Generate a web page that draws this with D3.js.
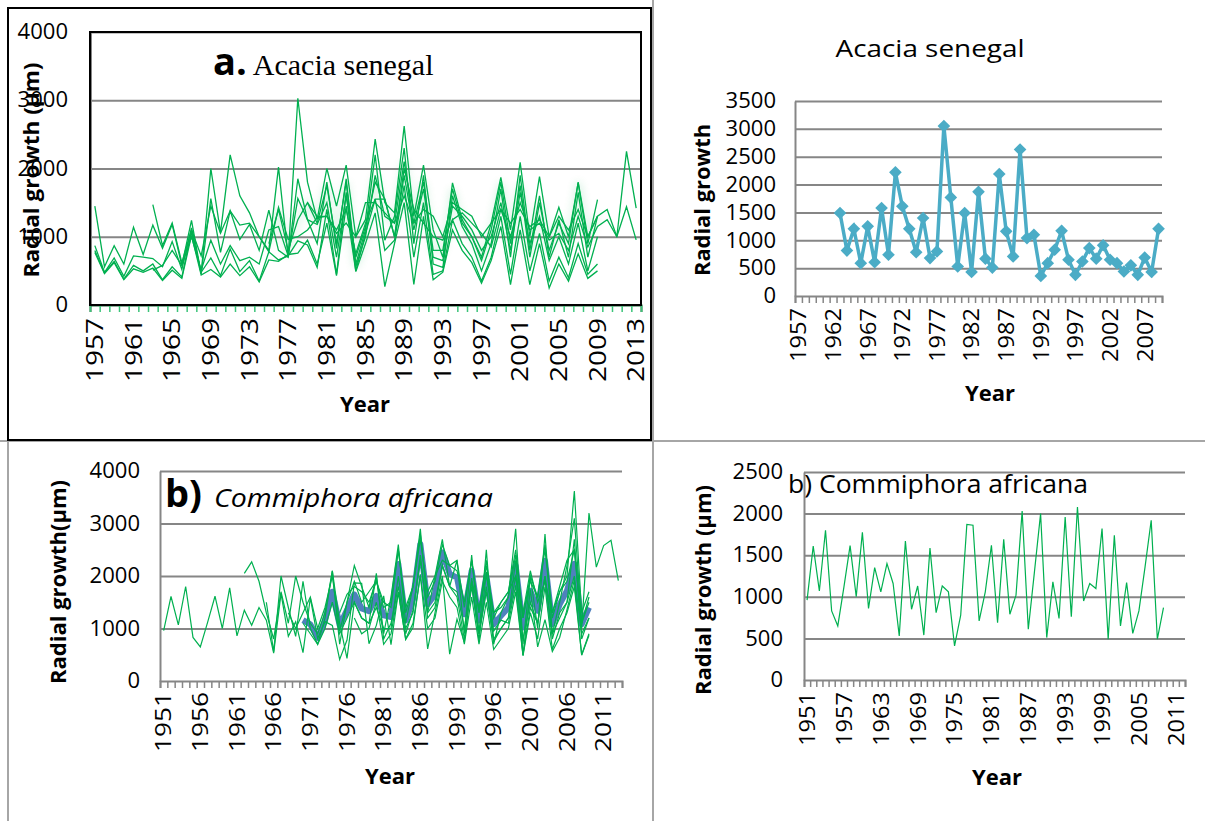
<!DOCTYPE html>
<html><head><meta charset="utf-8">
<script src="https://cdn.jsdelivr.net/npm/d3@7"></script>
<style>
body{margin:0;background:#fff;}
svg{display:block;font-family:"Open Sans",sans-serif;}
</style></head><body>
<svg id="c" width="1205" height="821"></svg>
<script>
// ---------------- DATA ----------------
// Panel a (left): Acacia senegal individual radii, categories 1957-2013
const acaciaFirstYear = 1957, acaciaLastYear = 2013;
const acaciaTickYears = [1957,1961,1965,1969,1973,1977,1981,1985,1989,1993,1997,2001,2005,2009,2013];
const acaciaYTicks = [0,1000,2000,3000,4000];
const acaciaStarts = [1957,1957,1957,1963,1963,1957,1975,1979];
const acS1 = [1450,560,870,600,1140,740,1170,830,1180,580,1240,460,2000,1060,2200,1600,1350,1000,800,2020,700,3030,1800,1250,2000,1450,2050,1000,1250,2430,1500,1350,2620,1300,2050,1100,700,1790,1250,1000,700,1200,1870,1100,2090,1000,1880,1000,1430,1000,1790,900,1545];
const acS2 = [870,480,690,420,720,700,680,560,930,520,1130,460,1560,770,1380,960,1180,800,1390,800,700,1850,1250,900,1800,830,1850,600,1100,2200,950,1300,2300,900,1900,600,550,1600,1150,900,500,900,1700,700,1900,800,1600,700,1250,700,1650,700,1300];
const acS3 = [800,470,640,380,580,500,600,370,560,410,1080,480,690,430,820,490,650,350,780,660,720,940,880,550,1400,450,1650,500,1050,1550,800,950,1750,700,1500,450,500,1250,900,700,350,700,1300,450,1300,500,1050,350,700,400,900,450,600];
const acS4 = [510,580,800,580,1000,510,950,600,870,650,700,600,1100,1150,720,1560,1250,1180,1500,700,1600,700,1150,1800,1550,1000,1900,1100,1700,700,650,1450,1300,1100,800,1000,1500,800,1650,900,1300,650,1000,600,1200,500,1000];
const acS5 = [1470,870,1200,620,1100,720,1450,1050,1380,1170,1200,1000,780,1430,960,1000,1100,1280,1300,1100,1400,750,1200,1550,1550,1000,2000,1400,1200,1000,950,1250,1350,1200,1050,850,1400,1000,1500,1100,1200,950,1050,800,1300,850,1150,1250,1000,1440,955];
const acS6 = [770,460,620,370,530,480,540,360,510,390,1020,440,520,410,600,430,560,340,660,640,740,760,950,600,1200,430,1450,490,900,1350,270,900,1500,300,1300,370,480,1100,800,620,320,650,1150,300,1100,300,900,250,600,350,750,390,500];
const acS7 = [900,1400,800,1250,1500,1200,1750,900,1800,560,1000,1900,1300,1200,2100,1200,1800,800,800,1700,1200,1000,650,1100,1800,900,1750,700,1500,800,1200,900,1800,1000,1300];
const acS8 = [1500,1300,1300,1050,1200,1000,1500,1500,1350,1200,1600,1200,1400,1300,1000,1500,1400,1300,1000,1200,1400,1200,1400,1150,1250,1000,1300,1100,1400,1000,1300,1400,1000,2250,1420];

// Panel top-right: Acacia senegal mean series, categories 1957-2009, data 1963-2009
const acMeanFirstYear = 1957, acMeanLastYear = 2009, acMeanStart = 1963;
const acMeanTickYears = [1957,1962,1967,1972,1977,1982,1987,1992,1997,2002,2007];
const acMeanYTicks = [0,500,1000,1500,2000,2500,3000,3500];
const acMean = [1490,815,1205,590,1250,605,1580,740,2220,1610,1205,785,1400,680,800,3050,1770,530,1490,430,1870,670,510,2190,1160,710,2630,1040,1100,360,590,830,1170,650,380,620,860,670,910,650,590,440,550,380,690,430,1205];

// Panel b (left): Commiphora africana radii, categories 1951-2013
const comFirstYear = 1951, comLastYear = 2013;
const comTickYears = [1951,1956,1961,1966,1971,1976,1981,1986,1991,1996,2001,2006,2011];
const comYTicks = [0,1000,2000,3000,4000];
const comLongStart = 1951;
const comLong = [960,1610,1070,1800,830,650,1120,1615,1000,1775,860,1350,1060,1400,1160,530,1670,850,1130,540,1585,810,1130,1060,410,780,1870,1860,710,1060,1620,690,1690,790,1020,2030,610,1300,2000,510,1180,740,1960,760,2080,950,1160,1100,1820,490,1740,650,1170,560,830,1360,1920,490,870];
const comStarts = [1962,1965,1968,1970,1975,1993,1977];
const comG1 = [2050,2270,1900,1300,800,1700,1100,2000,1500,1100,900,1300,2100,700,1500,2200,1800,1400,2000,900,1600,2600,1100,1800,2900,1300,2000,2700,1800,2300,900,2400,900,2500,700,1300,1600,2900,700,2000,1000,2800,900,1500,2200,3100,1100,1600];
const comG2 = [1500,560,2000,1400,850,1900,1000,700,1200,2100,1100,430,1500,1200,1100,2050,800,1100,1800,900,1350,2300,1300,1500,2200,1800,1600,800,1800,900,1700,750,1000,1200,2300,500,1400,1100,2000,800,1300,1500,2700,800,1200];
const comG3 = [1300,1000,1300,1600,1000,1400,2000,950,1500,1900,1500,1700,1900,1400,1500,2500,1400,1800,2700,1700,2000,2300,2200,2100,1500,2300,1300,2300,1200,1500,1700,2500,1200,2000,1600,2600,1300,1700,2000,3620,1300,1700];
const comG4 = [1100,900,700,1000,1500,900,1200,1500,1200,1100,1400,1000,1000,2000,1000,1300,2400,1200,1400,2200,1800,1700,1000,1900,900,1800,800,1000,1200,2000,800,1500,1100,2000,900,1200,1500,2000,900,1200];
const comG5 = [1300,1650,1800,1700,1500,1900,1500,1400,2500,1300,1800,2800,1600,1900,2600,2200,2300,1400,2300,1300,2200,1300,1400,1600,2400,1200,1900,1600,2500,1200,1700,1900,2500,1100,1500];
const comG6 = [1900,1400,2000,1300,1500,1700,2000,1300,2100,1500,1900,1300,1800,2300,2500,1000,3200,2170,2580,2680,1910];
const comG7 = [1200,900,1000,1500,700,900,1700,800,1100,2000,1000,1200,1900,1600,1400,700,1600,700,1500,600,800,1000,1700,480,1300,800,1800,600,1000,1300,1800,500,900];
const comMeanStart = 1970;
const comMean = [1160,1080,820,1150,1700,1060,1350,1650,1380,1330,1620,1250,1220,2230,1150,1550,2610,1460,1650,2450,2040,1970,1270,2100,1150,2000,1080,1240,1400,2200,1020,1720,1340,2290,1080,1460,1720,2230,1080,1400];

// Panel bottom-right: Commiphora africana single series, categories 1951-2012
const comSingleFirstYear = 1951, comSingleLastYear = 2012;
const comSingleTickYears = [1951,1957,1963,1969,1975,1981,1987,1993,1999,2005,2011];
const comSingleYTicks = [0,500,1000,1500,2000,2500];

// ---------------- DRAWING ----------------
const svg = d3.select("#c");
const GRID = "#868686", GREEN = "#00b050", AQUA = "#4bacc6", BLUE = "#4f81bd";

// panel frames
const frames = svg.append("g");
frames.append("line").attr("x1",653).attr("x2",653).attr("y1",0).attr("y2",821).attr("stroke","#a6a6a6").attr("stroke-width",2);
frames.append("line").attr("x1",0).attr("x2",1205).attr("y1",441).attr("y2",441).attr("stroke","#a6a6a6").attr("stroke-width",2);
frames.append("line").attr("x1",8).attr("x2",8).attr("y1",441).attr("y2",821).attr("stroke","#a6a6a6").attr("stroke-width",2);
frames.append("rect").attr("x",8).attr("y",8).attr("width",643).attr("height",432).attr("fill","none").attr("stroke","#000").attr("stroke-width",2);

function seriesPoints(start, values){ return values.map((v,i)=>({year:start+i, v})); }

function buildPanel(o){
  const g = svg.append("g");
  const years = d3.range(o.first, o.last+1);
  const x = d3.scaleBand().domain(years).range([o.xL,o.xR]).padding(0);
  const y = d3.scaleLinear().domain([0,o.yMax]).range([o.yB,o.yT]);
  const idx = d3.scaleLinear().domain([0,years.length]).range([o.xL,o.xR]);
  // grid
  g.append("g").attr("transform",`translate(${o.xL},0)`)
    .call(d3.axisLeft(y).tickValues(o.yTicks.filter(v=>v>0)).tickSize(-(o.xR-o.xL)).tickFormat(""))
    .call(s=>s.select(".domain").remove())
    .call(s=>s.selectAll("line").attr("stroke",GRID).attr("stroke-width",2));
  // y axis line + labels
  g.append("g").attr("transform",`translate(${o.xL},0)`)
    .call(d3.axisLeft(y).tickValues(o.yTicks).tickSize(0).tickPadding(o.yPad).tickFormat(d3.format("d")))
    .call(s=>s.select(".domain").attr("stroke",GRID).attr("stroke-width",o.yAxisW||2))
    .call(s=>s.selectAll("text").attr("font-size",21).attr("fill","#000").attr("font-family","Open Sans")
      .attr("textLength",d=>String(d).length*12.6).attr("lengthAdjust","spacingAndGlyphs"));
  // x tick marks
  g.append("g").attr("transform",`translate(0,${o.yB})`)
    .call(d3.axisBottom(idx).tickValues(d3.range(years.length+1)).tickSize(7).tickFormat(""))
    .call(s=>s.select(".domain").attr("stroke",o.xAxisColor||GRID).attr("stroke-width",2))
    .call(s=>s.selectAll("line").attr("stroke",o.tickColor||GRID).attr("stroke-width",1.5));
  // x labels
  g.append("g").attr("transform",`translate(0,${o.yB})`)
    .call(d3.axisBottom(x).tickValues(o.tickYears).tickSize(0))
    .call(s=>s.select(".domain").remove())
    .call(s=>s.selectAll("text")
      .attr("transform","rotate(-90)").attr("text-anchor","end")
      .attr("x",-o.xPad).attr("y",0).attr("dy","0.36em")
      .attr("font-size",o.xFont).attr("fill","#000").attr("font-family","Open Sans")
      .attr("textLength",o.xLen).attr("lengthAdjust","spacingAndGlyphs"));
  // axis titles
  g.append("text").attr("x",o.xTitle[0]).attr("y",o.xTitle[1]).attr("text-anchor","middle")
    .attr("font-weight","bold").attr("font-size",22).attr("textLength",50).attr("lengthAdjust","spacingAndGlyphs").text("Year");
  g.append("text").attr("transform",`translate(${o.yTitle[0]},${o.yTitle[1]}) rotate(-90)`)
    .attr("text-anchor","middle").attr("dy","0.36em").attr("font-weight","bold").attr("font-size",22)
    .attr("textLength",o.yTitleLen).attr("lengthAdjust","spacingAndGlyphs").text(o.yTitleText);
  return {g,x,y};
}

const line = (x,y)=>d3.line().x(d=>x(d.year)+x.bandwidth()/2).y(d=>y(d.v));

// ---- Panel a ----
const defs = svg.append("defs");
defs.append("filter").attr("id","glow").attr("x","-10%").attr("y","-10%").attr("width","120%").attr("height","120%")
  .append("feGaussianBlur").attr("stdDeviation",4);

const pa = buildPanel({first:acaciaFirstYear,last:acaciaLastYear,xL:90,xR:641,yT:32,yB:305,yMax:4000,
  yTicks:acaciaYTicks,yPad:22,tickYears:acaciaTickYears,xPad:13,xFont:23,xLen:64,
  xAxisColor:"#1e6b3a",tickColor:"#3cc47a",yAxisW:3,
  xTitle:[365,412],yTitle:[31,170],yTitleLen:215,yTitleText:"Radial growth (µm)"});
pa.g.append("rect").attr("x",90).attr("y",32).attr("width",551).attr("height",273)
  .attr("fill","none").attr("stroke","#000").attr("stroke-width",2);
const acSeries = [acS1,acS2,acS3,acS4,acS5,acS6,acS7,acS8];
const la = line(pa.x,pa.y);
pa.g.append("g").attr("filter","url(#glow)").attr("opacity",0.18)
  .selectAll("path").data([acS7].map(s=>seriesPoints(1975,s)))
  .join("path").attr("d",la).attr("fill","none").attr("stroke",GREEN).attr("stroke-width",4);
pa.g.append("g").selectAll("path").data(acSeries.map((s,i)=>seriesPoints(acaciaStarts[i],s)))
  .join("path").attr("d",la).attr("fill","none").attr("stroke",GREEN).attr("stroke-width",1.3).attr("stroke-linejoin","miter");
// title a
const ta = svg.append("text").attr("x",213).attr("y",75);
ta.append("tspan").attr("font-weight","bold").attr("font-size",38).text("a.");
ta.append("tspan").attr("font-family","Liberation Serif, serif").attr("font-size",30).attr("dx",6).text("Acacia senegal");

// ---- Panel top-right ----
const pb = buildPanel({first:acMeanFirstYear,last:acMeanLastYear,xL:795,xR:1162,yT:101,yB:296,yMax:3500,
  yTicks:acMeanYTicks,yPad:19,tickYears:acMeanTickYears,xPad:12,xFont:22,xLen:54,
  xTitle:[990,401],yTitle:[702,200],yTitleLen:152,yTitleText:"Radial growth"});
const acMeanPts = seriesPoints(acMeanStart, acMean);
const lb = line(pb.x,pb.y);
pb.g.append("path").datum(acMeanPts).attr("d",lb).attr("fill","none").attr("stroke",AQUA).attr("stroke-width",3.5);
pb.g.append("g").selectAll("path").data(acMeanPts).join("path")
  .attr("d",d3.symbol(d3.symbolSquare,80))
  .attr("transform",d=>`translate(${pb.x(d.year)+pb.x.bandwidth()/2},${pb.y(d.v)}) rotate(45)`)
  .attr("fill",AQUA);
svg.append("text").attr("x",930).attr("y",57).attr("text-anchor","middle").attr("font-size",24)
  .attr("textLength",189).attr("lengthAdjust","spacingAndGlyphs").text("Acacia senegal");

// ---- Panel b (left) ----
const pc = buildPanel({first:comFirstYear,last:comLastYear,xL:160,xR:622,yT:471,yB:681,yMax:4000,
  yTicks:comYTicks,yPad:20,tickYears:comTickYears,xPad:11,xFont:21,xLen:60,
  xTitle:[390,784],yTitle:[58,582],yTitleLen:204,yTitleText:"Radial growth(µm)"});
const lc = line(pc.x,pc.y);
const comSeries = [comG1,comG2,comG3,comG4,comG5,comG6,comG7].map((s,i)=>seriesPoints(comStarts[i],s));
comSeries.unshift(seriesPoints(comLongStart, comLong));
pc.g.append("path").datum(seriesPoints(comMeanStart, comMean)).attr("d",lc).attr("fill","none")
  .attr("stroke",BLUE).attr("stroke-width",6).attr("stroke-linejoin","round");
pc.g.append("g").selectAll("path").data(comSeries).join("path").attr("d",lc)
  .attr("fill","none").attr("stroke",GREEN).attr("stroke-width",1.2);
const tb = svg.append("text").attr("x",165).attr("y",507);
tb.append("tspan").attr("font-weight","bold").attr("font-size",38).text("b)");
tb.append("tspan").attr("font-style","italic").attr("font-size",25).attr("dx",12).attr("textLength",279)
  .attr("lengthAdjust","spacingAndGlyphs").text("Commiphora africana");

// ---- Panel bottom-right ----
const pd = buildPanel({first:comSingleFirstYear,last:comSingleLastYear,xL:804,xR:1185,yT:472,yB:680,yMax:2500,
  yTicks:comSingleYTicks,yPad:21,tickYears:comSingleTickYears,xPad:12,xFont:22,xLen:54,
  xTitle:[997,785],yTitle:[703,590],yTitleLen:210,yTitleText:"Radial growth (µm)"});
pd.g.append("path").datum(seriesPoints(comLongStart, comLong)).attr("d",line(pd.x,pd.y))
  .attr("fill","none").attr("stroke",GREEN).attr("stroke-width",1.2);
svg.append("text").attr("x",788).attr("y",493).attr("font-size",25).attr("textLength",300)
  .attr("lengthAdjust","spacingAndGlyphs").text("b) Commiphora africana");
</script>
</body></html>
